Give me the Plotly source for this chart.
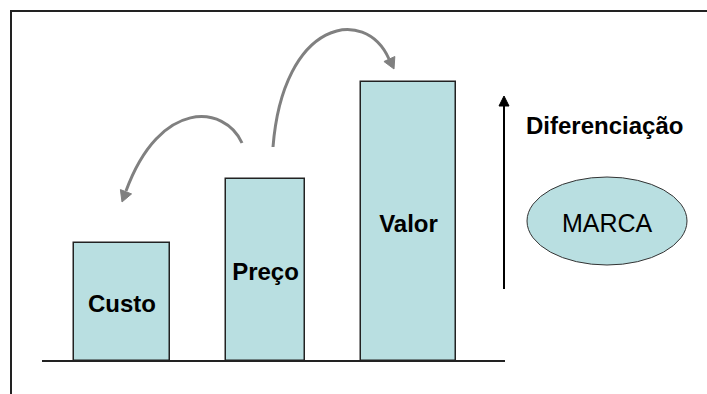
import plotly.graph_objects as go

# ---- data ----
categories = ["Custo", "Preço", "Valor"]
values = [118, 182, 279]            # bar heights (relative units)
positions = [122, 265.5, 408.5]     # bar centres on the x axis
bar_widths = [96, 79, 95]

brand_label = "MARCA"
axis_label = "Diferenciação"

# ---- styles ----
FILL = "#B9DFE1"
EDGE = "#222222"
ARROW = "#808080"
FONT = "Liberation Sans, Arial, sans-serif"
W, H = 707, 394
BASE_PX = 361  # pixel row of the baseline
TEXT_SHIFT = 4  # small downward nudge of in-bar labels (px)


def Y(py):
    """convert a pixel row to the y-axis value"""
    return BASE_PX - py


fig = go.Figure()

fig.add_trace(go.Bar(
    x=positions, y=values, width=bar_widths,
    marker=dict(color=FILL, line=dict(color=EDGE, width=1.5)),
    hoverinfo="skip", showlegend=False,
))

fig.add_trace(go.Scatter(
    x=positions, y=[v / 2 - TEXT_SHIFT for v in values], mode="text",
    text=[f"<b>{c}</b>" for c in categories],
    textfont=dict(family=FONT, size=24, color="#000000"),
    hoverinfo="skip", showlegend=False,
))

shapes = []
# frame (top + left)
shapes.append(dict(type="line", x0=10, x1=707, y0=Y(11), y1=Y(11),
                   line=dict(color=EDGE, width=2)))
shapes.append(dict(type="line", x0=11, x1=11, y0=Y(11), y1=Y(394),
                   line=dict(color=EDGE, width=2)))
# baseline
shapes.append(dict(type="line", x0=42, x1=505, y0=0, y1=0,
                   line=dict(color=EDGE, width=2)))


def bez(p0, p1, p2, p3):
    return "M {},{} C {},{} {},{} {},{}".format(
        p0[0], Y(p0[1]), p1[0], Y(p1[1]), p2[0], Y(p2[1]), p3[0], Y(p3[1]))


def head(tip, d, length=11, half=6):
    import math
    n = math.hypot(*d)
    dx, dy = d[0] / n, d[1] / n
    bx, by = tip[0] - length * dx, tip[1] - length * dy
    px, py = -dy, dx
    pts = [tip, (bx + half * px, by + half * py), (bx - half * px, by - half * py)]
    return "M {},{} L {},{} L {},{} Z".format(
        pts[0][0], Y(pts[0][1]), pts[1][0], Y(pts[1][1]), pts[2][0], Y(pts[2][1]))


# curved arrow: Preço -> Custo
shapes.append(dict(type="path", path=bez((242, 143), (225, 105), (160, 98), (126, 191)),
                   line=dict(color=ARROW, width=3)))
shapes.append(dict(type="path", path=head((122, 202), (-0.36, 0.93)),
                   fillcolor=ARROW, line=dict(color=ARROW, width=1)))
# curved arrow: Preço -> Valor
shapes.append(dict(type="path", path=bez((273, 147), (283, 20), (365, 5), (389, 59)),
                   line=dict(color=ARROW, width=3)))
shapes.append(dict(type="path", path=head((394, 69), (0.42, 0.91)),
                   fillcolor=ARROW, line=dict(color=ARROW, width=1)))

# vertical arrow
shapes.append(dict(type="line", x0=504, x1=504, y0=Y(289), y1=Y(105),
                   line=dict(color="#000000", width=2)))
shapes.append(dict(type="path", path=head((504, 96), (0, -1), length=10, half=5),
                   fillcolor="#000000", line=dict(color="#000000", width=1)))

# ellipse
shapes.append(dict(type="circle", x0=527, x1=687, y0=Y(265), y1=Y(177),
                   fillcolor=FILL, line=dict(color="#333333", width=1)))

annotations = [
    dict(x=604.5, y=Y(125), text=f"<b>{axis_label}</b>", showarrow=False,
         font=dict(family=FONT, size=24, color="#000000")),
    dict(x=607, y=Y(223), text=brand_label, showarrow=False,
         font=dict(family=FONT, size=25, color="#000000")),
]

fig.update_layout(
    width=W, height=H,
    margin=dict(l=0, r=0, t=0, b=0),
    paper_bgcolor="white", plot_bgcolor="white",
    xaxis=dict(range=[0, W], visible=False, fixedrange=True),
    yaxis=dict(range=[BASE_PX - H, BASE_PX], visible=False, fixedrange=True),
    shapes=shapes, annotations=annotations,
    showlegend=False, bargap=0,
)

fig.write_html("out.html", config={"displayModeBar": False})
